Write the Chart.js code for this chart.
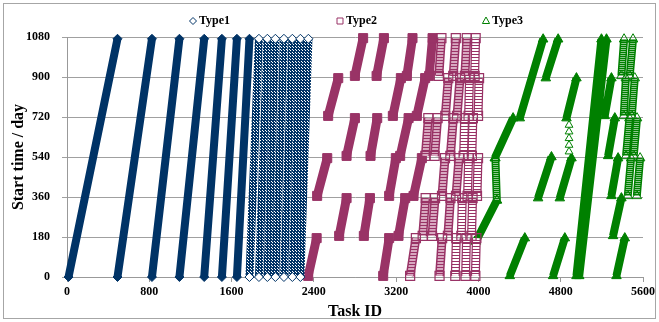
<!DOCTYPE html>
<html>
<head>
<meta charset="utf-8">
<script src="https://cdn.jsdelivr.net/npm/chart.js@4.4.1/dist/chart.umd.min.js"></script>
<style>
html,body{margin:0;padding:0;background:#fff;}
#wrap{position:relative;width:659px;height:322px;}
canvas{display:block;}
</style>
</head>
<body>
<div id="wrap"><canvas id="c" width="659" height="322"></canvas></div>
<script>
// ---- tick labels ----
const xTickValues = [0, 800, 1600, 2400, 3200, 4000, 4800, 5600];
const yTickValues = [0, 180, 360, 540, 720, 900, 1080];
const seriesNames = ['Type1', 'Type2', 'Type3'];

// ---- streaks: [first task ID, its start day, last task ID, its start day] ----
const type1Dense = [
  [15, 0, 491, 1072], [491, 0, 826, 1072], [826, 0, 1093, 1072], [1093, 0, 1334, 1072],
  [1334, 0, 1506, 1072], [1506, 0, 1652, 1072], [1652, 0, 1774, 1072]
];
const type1Sparse = [
  [1774, 0, 1866, 1072], [1866, 0, 1948, 1072], [1948, 0, 2026, 1072], [2026, 0, 2109, 1072],
  [2109, 0, 2191, 1072], [2191, 0, 2269, 1072], [2269, 0, 2347, 1072]
];
const type2Dense = [
  [2345, 5, 2427, 175], [2432, 365, 2530, 535], [2539, 725, 2637, 895], [2646, 185, 2718, 355],
  [2718, 545, 2799, 715], [2799, 905, 2879, 1075], [2886, 185, 2945, 355], [2951, 545, 3016, 715],
  [3010, 905, 3081, 1075], [3074, 5, 3132, 175], [3132, 365, 3197, 535], [3168, 725, 3246, 895],
  [3223, 185, 3288, 355], [3239, 545, 3321, 715], [3304, 905, 3359, 1075], [3369, 365, 3450, 535],
  [3401, 725, 3482, 895], [3521, 905, 3554, 1075]
];
const type2Striped = [
  [3336, 5, 3392, 175], [3458, 185, 3487, 355], [3484, 545, 3513, 715], [3549, 185, 3578, 355],
  [3574, 545, 3603, 715], [3615, 905, 3640, 1075], [3622, 5, 3647, 175], [3646, 365, 3675, 535],
  [3678, 725, 3707, 895], [3703, 185, 3728, 355], [3727, 545, 3756, 715], [3755, 905, 3780, 1075],
  [3782, 365, 3811, 535], [3792, 725, 3821, 895], [3868, 905, 3887, 1075]
];
const type2Hollow = [
  [3775, 5, 3785, 175], [3834, 185, 3843, 355], [3856, 545, 3866, 715], [3875, 5, 3884, 175],
  [3894, 365, 3904, 535], [3904, 725, 3913, 895], [3933, 185, 3943, 355], [3936, 545, 3946, 715],
  [3963, 905, 3973, 1075], [3970, 5, 3980, 175], [3986, 365, 3996, 535], [3996, 725, 4006, 895]
];
const type3Dense = [
  [3975, 160, 4179, 345], [4159, 535, 4337, 715], [4402, 715, 4629, 1070], [4655, 895, 4775, 1070],
  [4305, 5, 4451, 175], [4726, 5, 4840, 175], [4580, 355, 4710, 540], [4791, 355, 4905, 535],
  [4856, 715, 4953, 895], [4953, 5, 5196, 1070], [4980, 5, 5245, 1070],
  [5342, 5, 5423, 175], [5309, 185, 5390, 355], [5293, 365, 5358, 535], [5261, 545, 5326, 715],
  [5228, 725, 5293, 895]
];
const type3Striped = [
  [4179, 345, 4165, 535], [5390, 905, 5416, 1070], [5471, 905, 5503, 1070], [5413, 725, 5433, 895],
  [5491, 725, 5520, 895], [5435, 545, 5468, 715], [5510, 545, 5542, 715], [5452, 365, 5484, 535],
  [5540, 365, 5572, 535]
];
const type3SingleIds = [4881, 4881, 4881, 4881, 4881];
const type3SingleDays = [564, 594, 624, 654, 684];

// ---- styling ----
const NAVY = '#003366', PLUM = '#993366', GREEN = '#008000';
const FONT = 'Liberation Serif';
const canvas = document.getElementById('c');
const ctx0 = canvas.getContext('2d');
function makePattern(w, h, fn) {
  const t = document.createElement('canvas'); t.width = w; t.height = h;
  fn(t.getContext('2d'));
  return ctx0.createPattern(t, 'repeat');
}
const navyMesh = makePattern(3, 3, g => {
  g.fillStyle = NAVY; g.fillRect(0, 0, 3, 3);
  g.fillStyle = '#ffffff'; g.fillRect(1, 1, 1, 1); g.fillRect(2, 2, 1, 1);
});
const plumStripe = makePattern(1, 3, g => { g.fillStyle = '#d8a8c0'; g.fillRect(0, 0, 1, 3); g.fillStyle = PLUM; g.fillRect(0, 0, 1, 1); });
const plumLadder = makePattern(1, 3, g => { g.fillStyle = '#fff'; g.fillRect(0, 0, 1, 3); g.fillStyle = PLUM; g.fillRect(0, 0, 1, 1); });
const greenStripe = makePattern(1, 2, g => { g.fillStyle = '#8cc68c'; g.fillRect(0, 0, 1, 2); g.fillStyle = GREEN; g.fillRect(0, 0, 1, 1); });

function streakPoints(segs) {
  const pts = [];
  segs.forEach((s, i) => {
    if (i) pts.push({ x: s[0], y: null });
    pts.push({ x: s[0], y: s[1] }, { x: s[2], y: s[3] });
  });
  return pts;
}
function layer(segs, o) {
  return Object.assign({
    type: 'scatter', data: streakPoints(segs), showLine: true, spanGaps: false, tension: 0,
    borderCapStyle: 'butt', clip: false, pointRadius: 0, pointHoverRadius: 0
  }, o);
}

const datasets = [
  layer(type1Dense, { label: seriesNames[0], borderColor: NAVY, borderWidth: 8, pointStyle: 'rectRot', pointRadius: 4.5, pointBackgroundColor: NAVY, pointBorderColor: NAVY, pointBorderWidth: 1, order: 4 }),
  layer(type1Sparse, { label: seriesNames[0], borderColor: navyMesh, borderWidth: 8, pointStyle: 'rectRot', pointRadius: 4.5, pointBackgroundColor: '#fff', pointBorderColor: NAVY, pointBorderWidth: 1, order: 4 }),
  layer(type2Dense, { label: seriesNames[1], borderColor: PLUM, borderWidth: 9, pointStyle: 'rect', pointRadius: 6.4, pointBackgroundColor: PLUM, pointBorderColor: PLUM, pointBorderWidth: 1, order: 4 }),
  layer(type2Striped, { label: seriesNames[1], borderColor: PLUM, borderWidth: 9, order: 3 }),
  layer(type2Striped, { label: seriesNames[1], borderColor: plumStripe, borderWidth: 6, pointStyle: 'rect', pointRadius: 6.4, pointBackgroundColor: 'rgba(0,0,0,0)', pointBorderColor: PLUM, pointBorderWidth: 1.2, order: 2 }),
  layer(type2Hollow, { label: seriesNames[1], borderColor: PLUM, borderWidth: 9, order: 3 }),
  layer(type2Hollow, { label: seriesNames[1], borderColor: plumLadder, borderWidth: 6.5, pointStyle: 'rect', pointRadius: 6.4, pointBackgroundColor: 'rgba(0,0,0,0)', pointBorderColor: PLUM, pointBorderWidth: 1.2, order: 2 }),
  layer(type3Dense, { label: seriesNames[2], borderColor: GREEN, borderWidth: 8, pointStyle: 'triangle', pointRadius: 5.5, pointBackgroundColor: GREEN, pointBorderColor: GREEN, pointBorderWidth: 1, order: 4 }),
  layer(type3Striped, { label: seriesNames[2], borderColor: GREEN, borderWidth: 8, order: 3 }),
  layer(type3Striped, { label: seriesNames[2], borderColor: greenStripe, borderWidth: 5, pointStyle: 'triangle', pointRadius: 5.5, pointBackgroundColor: 'rgba(0,0,0,0)', pointBorderColor: GREEN, pointBorderWidth: 1, order: 2 }),
  {
    type: 'scatter', label: seriesNames[2], showLine: false, clip: false,
    data: type3SingleIds.map((x, i) => ({ x, y: type3SingleDays[i] })),
    pointStyle: 'triangle', pointRadius: 4.5, pointBackgroundColor: '#fff', pointBorderColor: GREEN, pointBorderWidth: 1, order: 1
  }
];

const legendStyles = [
  { color: NAVY, shape: 'diamond', mx: 193, tx: 199 },
  { color: PLUM, shape: 'square', mx: 340, tx: 346 },
  { color: GREEN, shape: 'triangle', mx: 486, tx: 492 }
];

const decor = {
  id: 'decor',
  afterDraw(chart) {
    const c = chart.ctx;
    c.save();
    c.strokeStyle = '#a6a6a6'; c.lineWidth = 1;
    c.strokeRect(3.5, 3.5, 652, 315);
    const y = 21;
    seriesNames.forEach((name, i) => {
      const st = legendStyles[i];
      c.strokeStyle = st.color; c.lineWidth = 1; c.fillStyle = '#fff';
      c.beginPath();
      if (st.shape === 'diamond') {
        c.moveTo(st.mx - 3.5, y); c.lineTo(st.mx, y - 3.5); c.lineTo(st.mx + 3.5, y); c.lineTo(st.mx, y + 3.5); c.closePath();
      } else if (st.shape === 'square') {
        c.rect(st.mx - 3, y - 3, 6, 6);
      } else {
        c.moveTo(st.mx, y - 4); c.lineTo(st.mx + 3.6, y + 2.5); c.lineTo(st.mx - 3.6, y + 2.5); c.closePath();
      }
      c.fill(); c.stroke();
      c.fillStyle = '#000';
      c.font = 'bold 12px "' + FONT + '"';
      c.textBaseline = 'middle'; c.textAlign = 'left';
      c.fillText(name, st.tx, y);
    });
    c.restore();
  }
};

new Chart(canvas, {
  type: 'scatter',
  data: { datasets },
  options: {
    responsive: false,
    animation: false,
    events: [],
    layout: { padding: { left: 0, right: 16, top: 37, bottom: 0 } },
    plugins: { legend: { display: false }, tooltip: { enabled: false } },
    scales: {
      x: {
        type: 'linear', min: 0, max: 5600,
        afterBuildTicks: s => { s.ticks = xTickValues.map(v => ({ value: v })); },
        afterFit: s => { s.height = 45; },
        grid: { drawOnChartArea: false, drawTicks: true, tickLength: 5, color: '#999' },
        border: { display: true, color: '#999' },
        ticks: { font: { family: FONT, size: 12, weight: 'bold' }, color: '#000', padding: 3, maxRotation: 0, autoSkip: false, callback: v => String(v) },
        title: { display: true, text: 'Task ID', color: '#000', font: { family: FONT, size: 16, weight: 'bold' }, padding: { top: 0, bottom: 1 } }
      },
      y: {
        type: 'linear', min: 0, max: 1080,
        afterBuildTicks: s => { s.ticks = yTickValues.map(v => ({ value: v })); },
        afterFit: s => { s.width = 67; },
        grid: { color: '#a0a0a0', tickLength: 5 },
        border: { display: true, color: '#999' },
        ticks: { font: { family: FONT, size: 12, weight: 'bold' }, color: '#000', padding: 12, callback: v => String(v) },
        title: { display: true, text: 'Start time / day', color: '#000', font: { family: FONT, size: 16, weight: 'bold' }, padding: { top: 9, bottom: 0 } }
      }
    }
  },
  plugins: [decor]
});
</script>
</body>
</html>
